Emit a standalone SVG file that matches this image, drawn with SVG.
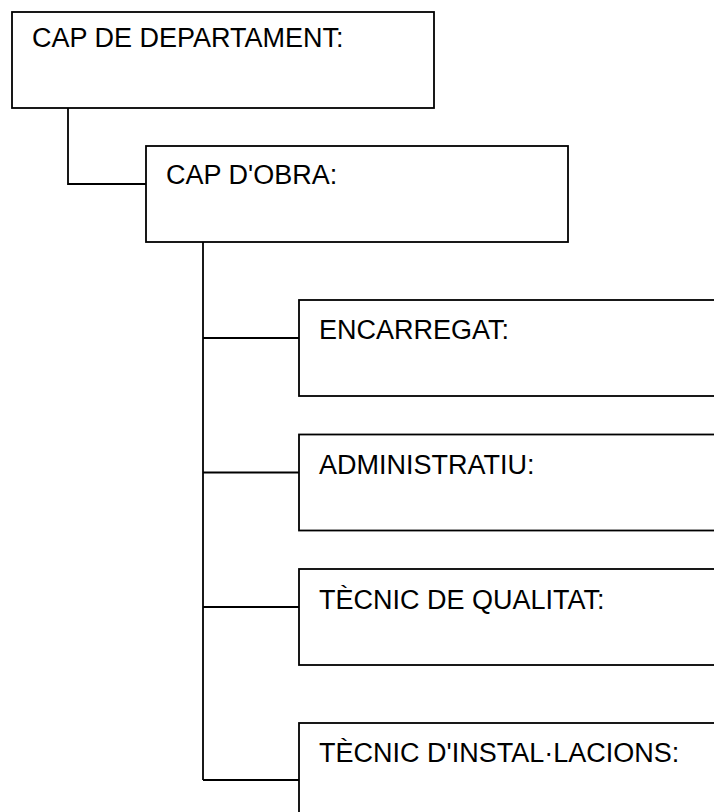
<svg xmlns="http://www.w3.org/2000/svg" width="714" height="812" viewBox="0 0 714 812">
<style>
.box{fill:#fff;stroke:#000;stroke-width:1.8}
.lbl{font-family:"Liberation Sans",Arial,sans-serif;font-size:27px;fill:#000}
.con{fill:none;stroke:#000;stroke-width:1.8}
</style>
<rect width="714" height="812" fill="#fff"/>
<g id="connectors">
<path class="con" d="M68,108 V184 H146"/>
<path class="con" d="M203,242 V780"/>
<path class="con" d="M203,338 H299"/>
<path class="con" d="M203,472.5 H299"/>
<path class="con" d="M203,607 H299"/>
<path class="con" d="M203,780 H299"/>
</g>
<g id="cap-departament">
<rect class="box" x="12" y="12" width="422" height="96"/>
<text class="lbl" x="32" y="47">CAP DE DEPARTAMENT:</text>
</g>
<g id="cap-obra">
<rect class="box" x="146" y="146" width="422" height="96"/>
<text class="lbl" x="166" y="184">CAP D'OBRA:</text>
</g>
<g id="encarregat">
<rect class="box" x="299" y="300" width="422" height="96"/>
<text class="lbl" x="319" y="339">ENCARREGAT:</text>
</g>
<g id="administratiu">
<rect class="box" x="299" y="434.5" width="422" height="96"/>
<text class="lbl" x="319" y="474">ADMINISTRATIU:</text>
</g>
<g id="tecnic-qualitat">
<rect class="box" x="299" y="569" width="422" height="96"/>
<text class="lbl" x="319" y="608.5">TÈCNIC DE QUALITAT:</text>
</g>
<g id="tecnic-installacions">
<rect class="box" x="299" y="723" width="422" height="96"/>
<text class="lbl" x="319" y="761.5">TÈCNIC D'INSTAL·LACIONS:</text>
</g>
</svg>
